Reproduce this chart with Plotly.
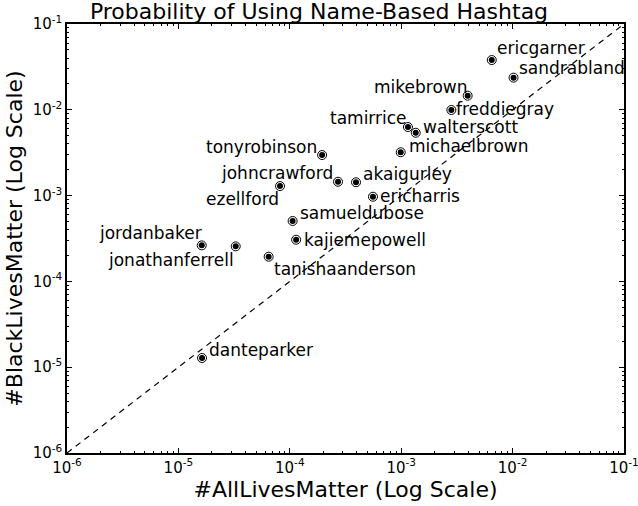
import math
import plotly.graph_objects as go

names = ["ericgarner", "sandrabland", "mikebrown", "freddiegray", "tamirrice",
         "walterscott", "michaelbrown", "tonyrobinson", "johncrawford", "akaigurley",
         "ericharris", "ezellford", "samueldubose", "kajiemepowell", "jordanbaker",
         "jonathanferrell", "tanishaanderson", "danteparker"]
all_lives = [6.5e-3, 1.02e-2, 3.95e-3, 2.82e-3, 1.15e-3,
             1.35e-3, 9.9e-4, 1.95e-4, 2.71e-4, 3.93e-4,
             5.58e-4, 8.17e-5, 1.06e-4, 1.14e-4, 1.62e-5,
             3.27e-5, 6.46e-5, 1.63e-5]
black_lives = [3.8e-2, 2.37e-2, 1.46e-2, 9.95e-3, 6.3e-3,
               5.4e-3, 3.2e-3, 2.97e-3, 1.45e-3, 1.43e-3,
               9.7e-4, 1.29e-3, 5.06e-4, 3.06e-4, 2.63e-4,
               2.56e-4, 1.94e-4, 1.28e-5]
tick_vals = [1e-6, 1e-5, 1e-4, 1e-3, 1e-2, 1e-1]
tick_text = ["10<sup>-6</sup>", "10<sup>-5</sup>", "10<sup>-4</sup>",
             "10<sup>-3</sup>", "10<sup>-2</sup>", "10<sup>-1</sup>"]

# label placement: (xanchor, xshift, yshift)
place = {
    "ericgarner": ("left", 3, 12), "sandrabland": ("left", 3, 10),
    "mikebrown": ("right", 1, 9), "freddiegray": ("left", 3, 1),
    "tamirrice": ("right", 1, 9), "walterscott": ("left", 5, 6),
    "michaelbrown": ("left", 6, 6), "tonyrobinson": ("right", -3, 8),
    "johncrawford": ("right", -3, 9), "akaigurley": ("left", 5, 8),
    "ericharris": ("left", 5, 1), "ezellford": ("right", 1, -13),
    "samueldubose": ("left", 5, 8), "kajiemepowell": ("left", 6, 0),
    "jordanbaker": ("right", 2, 12), "jonathanferrell": ("right", 0, -14),
    "tanishaanderson": ("left", 3, -12), "danteparker": ("left", 5, 8),
}

fig = go.Figure()
fig.add_trace(go.Scatter(x=[1e-6, 1e-1], y=[1e-6, 1e-1], mode="lines",
                         line=dict(color="black", width=1.2, dash="6px,5px"),
                         hoverinfo="skip"))
fig.add_trace(go.Scatter(x=all_lives, y=black_lives, mode="markers",
                         marker=dict(size=9, color="white", line=dict(color="black", width=1))))
fig.add_trace(go.Scatter(x=all_lives, y=black_lives, mode="markers",
                         marker=dict(size=6, color="black")))

# annotations on log axes take log10 coordinates
for n, xv, yv in zip(names, all_lives, black_lives):
    anchor, dx, dy = place[n]
    fig.add_annotation(x=math.log10(xv), y=math.log10(yv), xref="x", yref="y",
                       text=n, showarrow=False,
                       xanchor=anchor, yanchor="middle", xshift=dx, yshift=dy,
                       font=dict(size=17, color="black"))

axis_style = dict(type="log", tickvals=tick_vals, ticktext=tick_text,
                  ticks="inside", ticklen=5, tickwidth=1, tickcolor="black",
                  showline=True, linecolor="black", linewidth=1.5, mirror="allticks",
                  showgrid=False, zeroline=False, tickfont=dict(size=15, color="black"),
                  ticklabeloverflow="allow", automargin=False,
                  minor=dict(ticks="inside", ticklen=2.5, tickcolor="black", dtick="D1",
                             showgrid=False))

fig.update_layout(
    width=638, height=506,
    margin=dict(l=67, r=14, t=24, b=53),
    paper_bgcolor="white", plot_bgcolor="white",
    showlegend=False,
    font=dict(family="DejaVu Sans", color="black"),
    title=dict(text="Probability of Using Name-Based Hashtag", x=0.5, xanchor="center",
               y=0.978, yanchor="middle", font=dict(size=22)),
    xaxis=dict(axis_style, range=[-6, -1],
               title=dict(text="#AllLivesMatter (Log Scale)", font=dict(size=22), standoff=4)),
    yaxis=dict(axis_style, range=[-6, -1],
               title=dict(text="#BlackLivesMatter (Log Scale)", font=dict(size=22), standoff=4)),
)

# drop the page's default body margin so the figure sits at the window's corner
fig.write_html("out.html", config={"displayModeBar": False},
               post_script="document.body.style.margin='0';")
